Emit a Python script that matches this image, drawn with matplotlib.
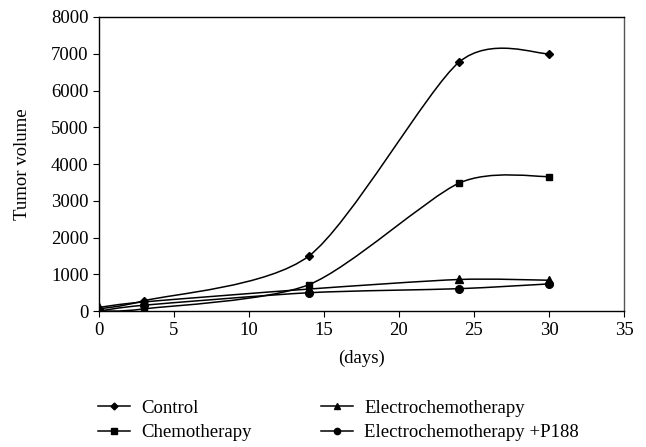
import numpy as np
import matplotlib
matplotlib.use("Agg")
import matplotlib.pyplot as plt
from matplotlib.path import Path
from matplotlib.patches import PathPatch
from matplotlib.lines import Line2D

plt.rcParams['font.family'] = ['Liberation Serif', 'DejaVu Serif']

days = [0, 3, 14, 24, 30]
control = [60, 280, 1500, 6770, 7000]
chemo = [0, 60, 720, 3480, 3660]
ect = [100, 250, 600, 860, 840]
ect_p188 = [0, 160, 500, 610, 740]

series = [
    ("Control", control, "D", 4.5),
    ("Chemotherapy", chemo, "s", 5),
    ("Electrochemotherapy", ect, "^", 5.5),
    ("Electrochemotherapy +P188", ect_p188, "o", 5.5),
]


def smooth_path(x, y, t=0.13):
    # smoothed line like a spreadsheet chart: cubic Bezier through the points
    pts = np.column_stack([x, y]).astype(float)
    n = len(pts)
    verts = [pts[0]]
    codes = [Path.MOVETO]
    for i in range(n - 1):
        p0 = pts[i - 1] if i > 0 else pts[i]
        p1 = pts[i]
        p2 = pts[i + 1]
        p3 = pts[i + 2] if i + 2 < n else pts[i + 1]
        c1 = p1 + (p2 - p0) * t
        c2 = p2 - (p3 - p1) * t
        verts += [c1, c2, p2]
        codes += [Path.CURVE4] * 3
    return Path(verts, codes)


fig = plt.figure(figsize=(6.46, 4.47), dpi=100)
ax = fig.add_axes([0.153, 0.304, 0.813, 0.658])

fs = 13.5
handles = []
for name, vals, mk, ms in series:
    ax.add_patch(PathPatch(smooth_path(days, vals), facecolor="none",
                           edgecolor="black", lw=1.1))
    ax.plot(days, vals, linestyle="none", marker=mk, color="black",
            markersize=ms)
    handles.append(Line2D([], [], color="black", lw=1.1, marker=mk,
                          markersize=ms - 1, label=name))

ax.set_xlim(0, 35)
ax.set_ylim(0, 8000)
ax.set_xticks(range(0, 36, 5))
ax.set_yticks(range(0, 8001, 1000))
ax.tick_params(direction="out", length=4, labelsize=fs, colors="black")
ax.set_xlabel("(days)", fontsize=fs, labelpad=8)
ax.set_ylabel("Tumor volume", fontsize=fs, labelpad=14)
for s in ax.spines.values():
    s.set_linewidth(1.0)
ax.spines["right"].set_color("#555555")

fig.legend(handles=handles, loc="upper left", bbox_to_anchor=(0.152, 0.106),
           ncol=2, frameon=False, fontsize=fs, handlelength=1.7,
           handletextpad=0.6, columnspacing=3.7, labelspacing=0.4,
           borderaxespad=0, borderpad=0)

fig.savefig("out.png", dpi=100)
